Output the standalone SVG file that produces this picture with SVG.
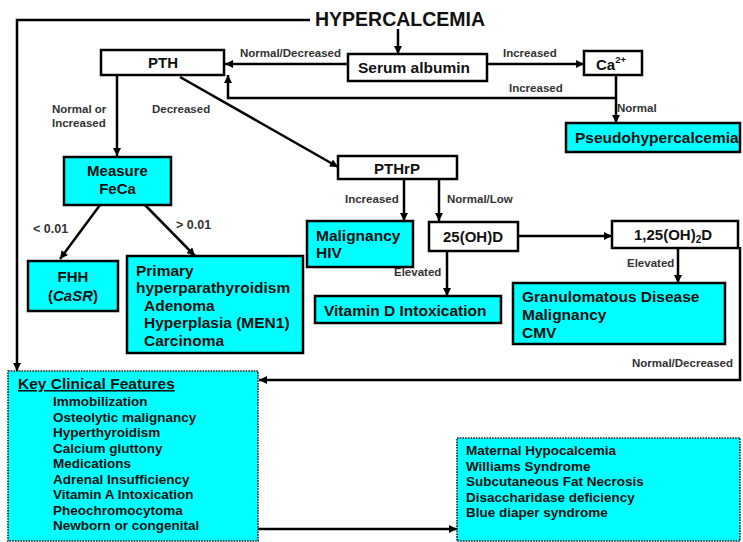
<svg xmlns="http://www.w3.org/2000/svg" width="743" height="542" viewBox="0 0 743 542">
<style>
.b{fill:#fff;stroke:#000;stroke-width:2.5}
.c{fill:#00ffff;stroke:#000;stroke-width:2.5}
.d{fill:#00ffff;stroke:#222;stroke-width:1.6;stroke-dasharray:1.6 1.1}
text{font-family:"Liberation Sans",Arial,sans-serif;font-weight:bold;fill:#111}
.t{font-size:15.5px}
.m{font-size:15px}
.l{font-size:13.5px}
.s{font-size:11.5px;fill:#333}
.h{font-size:19.5px}
.cn path{fill:none;stroke:#000;stroke-width:2.5}
.cn .a{marker-end:url(#ar)}
</style>
<defs>
<marker id="ar" viewBox="0 0 10 10" markerWidth="9" markerHeight="8" refX="10" refY="5" orient="auto" markerUnits="userSpaceOnUse">
<path d="M0,0 L10,5 L0,10 z" fill="#000"/>
</marker>
</defs>
<rect width="743" height="542" fill="#fff"/>

<g class="cn" id="connectors">
<path class="a" d="M310,20 H17 V371"/>
<path class="a" d="M398,29 V54"/>
<path class="a" d="M348,64 H225"/>
<path class="a" d="M487,64 H584"/>
<path class="a" d="M616,75 V123"/>
<path class="a" d="M616,98 H228 V75"/>
<path class="a" d="M117,75 V156"/>
<path class="a" d="M180,77 L338,167"/>
<path class="a" d="M100,205 L60,259"/>
<path class="a" d="M145,205 L195,256"/>
<path class="a" d="M404,179 V221"/>
<path class="a" d="M439,179 V221"/>
<path class="a" d="M518,236 H612"/>
<path class="a" d="M447,251 V296"/>
<path class="a" d="M678,248 V283"/>
<path class="a" d="M740,247 V380 H259"/>
<path class="a" d="M258,529 H457"/>
</g>

<g id="labels">
<text class="s" x="240" y="57">Normal/Decreased</text>
<text class="s" x="503" y="57">Increased</text>
<text class="s" x="509" y="92">Increased</text>
<text class="s" x="617" y="112">Normal</text>
<text class="s" x="52" y="113">Normal or</text>
<text class="s" x="52" y="127">Increased</text>
<text class="s" x="152" y="113">Decreased</text>
<text class="s" x="33" y="233" style="font-size:12.5px">&lt; 0.01</text>
<text class="s" x="176" y="229" style="font-size:12.5px">&gt; 0.01</text>
<text class="s" x="345" y="203">Increased</text>
<text class="s" x="447" y="203">Normal/Low</text>
<text class="s" x="394" y="276">Elevated</text>
<text class="s" x="627" y="267">Elevated</text>
<text class="s" x="632" y="367">Normal/Decreased</text>
</g>

<g id="hypercalcemia">
<text class="h" x="315" y="25.5">HYPERCALCEMIA</text>
</g>

<g id="pth">
<rect class="b" x="101" y="50" width="123" height="25"/>
<text class="m" x="163" y="68" text-anchor="middle">PTH</text>
</g>

<g id="serum-albumin">
<rect class="b" x="348" y="54" width="139" height="27"/>
<text class="t" x="358" y="73">Serum albumin</text>
</g>

<g id="ca">
<rect class="b" x="584" y="51" width="58" height="24"/>
<text class="m" x="596" y="70">Ca<tspan font-size="9.5px" dy="-7">2+</tspan></text>
</g>

<g id="pseudohypercalcemia">
<rect class="c" x="566" y="123" width="174" height="29"/>
<text class="t" x="575" y="143">Pseudohypercalcemia</text>
</g>

<g id="measure-feca">
<rect class="c" x="64" y="157" width="107" height="48"/>
<text class="m" x="117.5" y="176" text-anchor="middle">Measure</text>
<text class="m" x="117.5" y="194" text-anchor="middle">FeCa</text>
</g>

<g id="fhh">
<rect class="c" x="28" y="261" width="90" height="50"/>
<text class="m" x="73" y="282" text-anchor="middle">FHH</text>
<text class="m" x="73" y="301" text-anchor="middle">(<tspan font-style="italic">CaSR</tspan>)</text>
</g>

<g id="primary">
<rect class="c" x="127" y="256" width="176" height="97"/>
<text class="t" x="136" y="276">Primary</text>
<text class="t" x="136" y="293">hyperparathyroidism</text>
<text class="t" x="144" y="311">Adenoma</text>
<text class="t" x="144" y="328">Hyperplasia (MEN1)</text>
<text class="t" x="144" y="346">Carcinoma</text>
</g>

<g id="pthrp">
<rect class="b" x="338" y="156" width="119" height="23"/>
<text class="m" x="397" y="173.5" text-anchor="middle">PTHrP</text>
</g>

<g id="malignancy-hiv">
<rect class="c" x="307" y="221" width="106" height="46"/>
<text class="t" x="316" y="241">Malignancy</text>
<text class="t" x="316" y="258">HIV</text>
</g>

<g id="oh-d">
<rect class="b" x="429" y="222" width="89" height="29"/>
<text class="m" x="473" y="242" text-anchor="middle">25(OH)D</text>
</g>

<g id="dihydroxy-d">
<rect class="b" x="612" y="221" width="126" height="27"/>
<text class="m" x="673" y="240" text-anchor="middle">1,25(OH)<tspan font-size="10px" dy="3">2</tspan><tspan dy="-3">D</tspan></text>
</g>

<g id="vitamin-d">
<rect class="c" x="315" y="296" width="186" height="27"/>
<text class="t" x="324" y="316">Vitamin D Intoxication</text>
</g>

<g id="granulomatous">
<rect class="c" x="513" y="283" width="212" height="61"/>
<text class="t" x="522" y="302">Granulomatous Disease</text>
<text class="t" x="522" y="320">Malignancy</text>
<text class="t" x="522" y="338">CMV</text>
</g>

<g id="key-features">
<rect class="d" x="8" y="371" width="250" height="170"/>
<text class="t" x="18" y="389" text-decoration="underline">Key Clinical Features</text>
<text class="l" x="53" y="406">Immobilization</text>
<text class="l" x="53" y="421.5">Osteolytic malignancy</text>
<text class="l" x="53" y="437">Hyperthyroidism</text>
<text class="l" x="53" y="452.5">Calcium gluttony</text>
<text class="l" x="53" y="468">Medications</text>
<text class="l" x="53" y="483.5">Adrenal Insufficiency</text>
<text class="l" x="53" y="499">Vitamin A Intoxication</text>
<text class="l" x="53" y="514.5">Pheochromocytoma</text>
<text class="l" x="53" y="530">Newborn or congenital</text>
</g>

<g id="newborn-causes">
<rect class="d" x="457" y="438" width="283" height="103"/>
<text class="l" x="466" y="455">Maternal Hypocalcemia</text>
<text class="l" x="466" y="470.5">Williams Syndrome</text>
<text class="l" x="466" y="486">Subcutaneous Fat Necrosis</text>
<text class="l" x="466" y="501.5">Disaccharidase deficiency</text>
<text class="l" x="466" y="517">Blue diaper syndrome</text>
</g>
</svg>
